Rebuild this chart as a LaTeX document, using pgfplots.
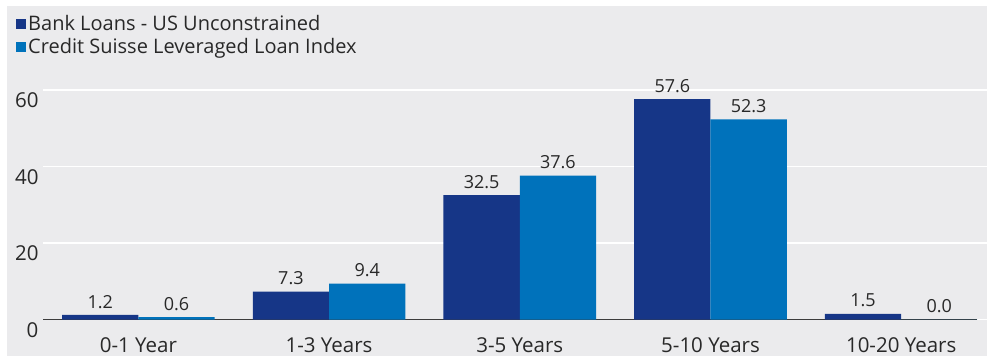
\documentclass[border=0pt]{standalone}
\usepackage{pgfplots}
\pgfplotsset{compat=1.18}
\usepackage{fontspec}
\setmainfont{Open Sans}
\definecolor{bank}{RGB}{22,54,135}
\definecolor{cs}{RGB}{0,114,187}
\definecolor{bg}{RGB}{235,235,237}
\definecolor{txt}{RGB}{40,40,40}
\definecolor{axl}{RGB}{60,60,60}
\begin{document}
\begin{tikzpicture}[x=1pt,y=1pt]
\useasboundingbox (0,0) rectangle (987,356);
\fill[bg] (7,0) rectangle (987,350);
\begin{axis}[
  at={(43pt,36.5pt)}, anchor=south west,
  scale only axis, width=944pt, height=229.5pt,
  xmin=-0.5, xmax=4.45, ymin=0, ymax=60,
  ybar=0pt, bar width=0.4,
  axis line style={draw=none},
  ytick={0,20,40,60},
  ymajorgrids, grid style={white, line width=1.8pt},
  major tick length=0pt, tick style={draw=none},
  xtick={0,1,2,3,4},
  xticklabels={0-1 Year,1-3 Years,3-5 Years,5-10 Years,10-20 Years},
  /pgf/number format/assume math mode=true,
  ticklabel style={font=\fontsize{20.5}{20.5}\selectfont, text=txt},
  yticklabel style={yshift=-10.5pt, xshift=-1pt},
  xticklabel style={yshift=-15pt},
  nodes near coords,
  every node near coord/.append style={font=\fontsize{18}{18}\selectfont, text=txt, yshift=3pt,
     /pgf/number format/fixed, /pgf/number format/fixed zerofill, /pgf/number format/precision=1},
  clip=false,
  legend style={at={(-0.0286,1.335)}, anchor=north west, draw=none, fill=none,
     font=\fontsize{20}{20}\selectfont, text=txt, inner sep=0pt, row sep=2.5pt,
     /tikz/every even column/.append style={column sep=0pt}},
  legend cell align=left,
  legend image code/.code={\fill[#1,draw=none] (-2pt,-5pt) rectangle (8pt,5pt);},
]
\draw[axl, line width=1.5pt] (axis cs:-0.5,0) -- (axis cs:4.4,0);
\addplot[fill=bank, draw=none] coordinates {(0,1.2) (1,7.3) (2,32.5) (3,57.6) (4,1.5)};
\addplot[fill=cs, draw=none] coordinates {(0,0.6) (1,9.4) (2,37.6) (3,52.3) (4,0.0)};
\legend{Bank Loans - US Unconstrained, Credit Suisse Leveraged Loan Index}
\end{axis}
\end{tikzpicture}
\end{document}
